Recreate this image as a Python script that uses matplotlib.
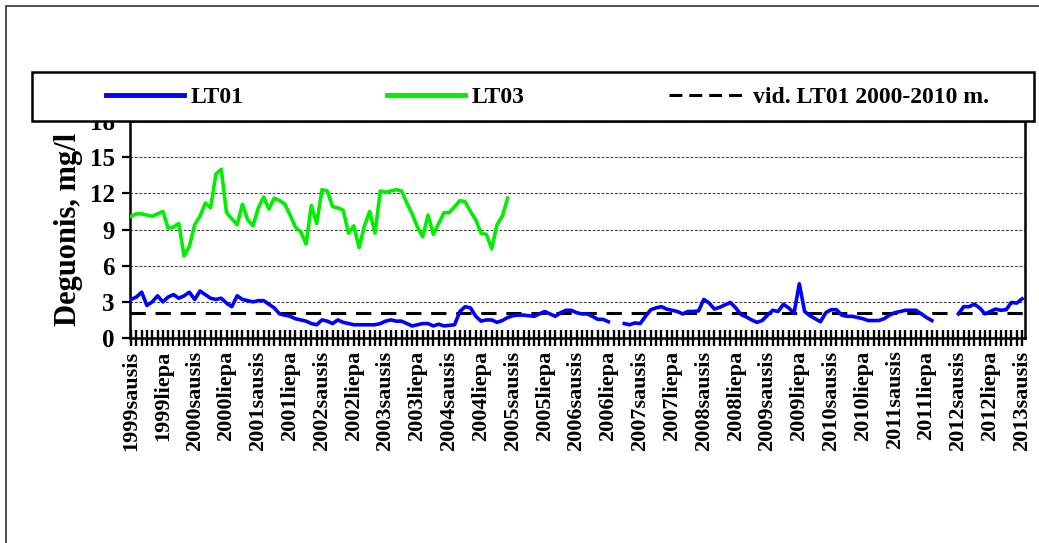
import numpy as np
import matplotlib
matplotlib.use("Agg")
import matplotlib.pyplot as plt
from matplotlib.patches import Rectangle
from matplotlib.lines import Line2D
from matplotlib.ticker import FixedLocator, MultipleLocator

plt.rcParams['font.family'] = ['Liberation Serif', 'DejaVu Serif']
plt.rcParams['font.weight'] = 'bold'

# Monthly dissolved-oxygen values, January 1999 .. January 2013 (169 months)
nan = np.nan
lt01 = [
    3.2, 3.4, 3.8, 2.7, 3.0, 3.5, 3.0, 3.4, 3.6, 3.3, 3.5, 3.8,
    3.2, 3.9, 3.6, 3.3, 3.2, 3.3, 2.9, 2.6, 3.5, 3.2, 3.1, 3.0,
    3.1, 3.1, 2.8, 2.5, 2.0, 1.9, 1.8, 1.6, 1.5, 1.4, 1.2, 1.1,
    1.5, 1.4, 1.2, 1.5, 1.3, 1.2, 1.1, 1.1, 1.1, 1.1, 1.1, 1.2,
    1.4, 1.5, 1.4, 1.4, 1.2, 1.0, 1.1, 1.2, 1.2, 1.0, 1.15, 1.0,
    1.05, 1.1, 2.2, 2.6, 2.5, 1.8, 1.4, 1.5, 1.5, 1.3, 1.45, 1.7,
    1.85, 1.9, 1.9, 1.85, 1.8, 2.0, 2.2, 2.0, 1.8, 2.1, 2.3, 2.3,
    2.1, 2.0, 2.0, 1.8, 1.55, 1.55, 1.35, nan, nan, 1.2, 1.1, 1.25,
    1.2, 1.8, 2.35, 2.5, 2.6, 2.4, 2.3, 2.2, 2.0, 2.2, 2.2, 2.25,
    3.2, 2.9, 2.4, 2.55, 2.75, 2.95, 2.5, 1.95, 1.75, 1.5, 1.3, 1.45,
    1.9, 2.3, 2.2, 2.8, 2.5, 2.05, 4.5, 2.2, 1.85, 1.6, 1.35, 2.1,
    2.35, 2.35, 1.9, 1.8, 1.8, 1.7, 1.6, 1.45, 1.45, 1.45, 1.6, 1.9,
    2.1, 2.2, 2.3, 2.3, 2.3, 2.0, 1.7, 1.45, nan, nan, nan, nan,
    2.0, 2.6, 2.6, 2.8, 2.5, 2.0, 2.2, 2.4, 2.3, 2.35, 2.95, 2.9,
    3.25,
]
lt03 = [
    10.1, 10.3, 10.3, 10.2, 10.1, 10.3, 10.5, 9.1, 9.2, 9.5, 6.8, 7.6,
    9.4, 10.1, 11.2, 10.8, 13.6, 14.0, 10.4, 9.9, 9.4, 11.1, 9.8, 9.3,
    10.8, 11.7, 10.7, 11.6, 11.4, 11.1, 10.2, 9.2, 8.8, 7.8, 11.0, 9.5,
    12.3, 12.2, 10.9, 10.8, 10.6, 8.7, 9.3, 7.5, 9.3, 10.5, 8.7, 12.2,
    12.1, 12.2, 12.3, 12.2, 11.2, 10.3, 9.2, 8.4, 10.2, 8.6, 9.5, 10.4,
    10.4, 10.9, 11.4, 11.3, 10.5, 9.8, 8.7, 8.6, 7.4, 9.4, 10.1, 11.6,
]
lt01_mean = 2.1  # LT01 average 2000-2010

years = list(range(1999, 2014))
half_names = ["sausis", "liepa"]
tick_labels = [f"{y}{h}" for y in years for h in half_names][:-1]

months = np.arange(len(lt01))

fig = plt.figure(figsize=(10.39, 5.43), dpi=100)
ax = fig.add_axes([0.1251, 0.3775, 0.8614, 0.3996])

ax.plot(months, lt01, color="#0000ff", lw=2.6, solid_joinstyle="round", zorder=3)
ax.plot(np.arange(len(lt03)), lt03, color="#00ee00", lw=2.6, solid_joinstyle="round", zorder=3)
ax.axhline(lt01_mean, color="black", lw=2.2, dashes=(5, 3.2), zorder=2)

ax.set_ylim(0, 18)
ax.set_xlim(-0.2, len(lt01) - 0.45)
ax.yaxis.set_major_locator(MultipleLocator(3))
ax.grid(axis="y", color="#444444", lw=0.8, linestyle=(0, (2.5, 1.5)), zorder=1)

ax.xaxis.set_major_locator(FixedLocator(np.arange(0, len(lt01), 6)))
ax.xaxis.set_minor_locator(FixedLocator(months))
ax.set_xticklabels(tick_labels, rotation=90, fontsize=16, fontweight="bold")
ax.tick_params(axis="x", which="both", direction="inout", length=12, width=1.7, pad=3)
ax.tick_params(axis="y", which="major", direction="out", length=6, width=1.6,
               labelsize=18, pad=5)
for lab in ax.get_yticklabels():
    lab.set_fontweight("bold")

for side in ["left", "bottom", "right", "top"]:
    ax.spines[side].set_linewidth(1.8)
    ax.spines[side].set_color("black")

ax.set_ylabel("Deguonis, mg/l", fontsize=22, fontweight="bold", labelpad=5)

# outer frame of the chart area
W, H = 1039, 543
fig.add_artist(Rectangle((6 / W, -0.1), 1.2, (H - 6) / H + 0.1, transform=fig.transFigure,
                         fill=False, edgecolor="#333333", lw=1.2, zorder=0))

# legend box across the top of the plot
fig.add_artist(Rectangle((32 / W, (H - 121) / H), (1034 - 32) / W, 49 / H,
                         transform=fig.transFigure, facecolor="white",
                         edgecolor="black", lw=1.8, zorder=5))
handles = [
    Line2D([], [], color="#0000ff", lw=3.5),
    Line2D([], [], color="#00ee00", lw=3.5),
    Line2D([], [], color="black", lw=2.2, dashes=(4.2, 2.3)),
]
leg = fig.legend(handles, ["LT01", "LT03", "vid. LT01 2000-2010 m."],
                 loc="center left", bbox_to_anchor=(94 / W, (H - 97) / H),
                 ncol=3, frameon=False, handlelength=3.3, handletextpad=0.28,
                 columnspacing=6.1, borderpad=0,
                 prop={"family": "Liberation Serif", "weight": "bold", "size": 17})
leg.set_zorder(6)

fig.savefig("out.png", dpi=100)
